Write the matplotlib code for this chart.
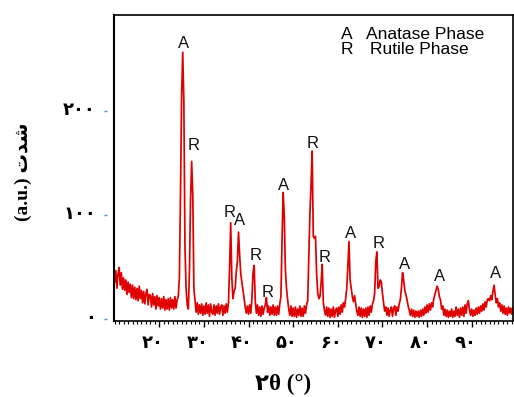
import numpy as np
import matplotlib
matplotlib.use("Agg")
import matplotlib.pyplot as plt
import matplotlib.transforms as mtransforms
from matplotlib.lines import Line2D

# 2-theta sampling grid (degrees) and intensities
two_theta_start = 10.0
two_theta_step = 0.25
intensity = [
    36, 47, 30, 44, 50, 33, 45, 29,      # 10
    40, 28, 38, 24, 36, 26, 34, 21,      # 12
    33, 20, 31, 19, 30, 18, 32, 20,      # 14
    28, 16, 27, 15, 25, 29, 14, 24,      # 16
    23, 12, 25, 14, 22, 10, 23, 13,      # 18
    21, 10, 20, 11, 22, 9, 19, 10,       # 20
    20, 9, 21, 11, 19, 10, 22, 11,       # 22
    19, 22, 40, 120, 215, 257, 210, 70,  # 24
    30, 14, 10, 45, 115, 152, 120, 30,   # 26
    18, 7, 16, 5, 14, 6, 15, 4,          # 28
    13, 5, 16, 6, 14, 3, 15, 7,          # 30
    5, 14, 4, 13, 6, 15, 5, 12,          # 32
    14, 4, 13, 6, 15, 7, 16, 50,         # 34
    93, 40, 20, 27, 30, 46, 56, 84,      # 36
    62, 44, 36, 28, 20, 12, 6, 13,       # 38
    5, 14, 6, 20, 45, 52, 18, 6,         # 40
    14, 4, 12, 3, 13, 5, 11, 14,         # 42
    21, 7, 13, 4, 12, 5, 14, 4,          # 44
    12, 4, 13, 5, 15, 22, 76, 122,       # 46
    100, 48, 30, 19, 10, 4, 13, 3,       # 48
    11, 3, 12, 2, 10, 4, 13, 3,          # 50
    11, 3, 13, 6, 14, 18, 60, 102,       # 52
    130, 162, 80, 78, 80, 44, 25, 20,    # 54
    22, 35, 53, 16, 9, 4, 12, 3,         # 56
    11, 2, 10, 3, 12, 2, 9, 11,          # 58
    3, 12, 5, 14, 7, 16, 12, 20,         # 60
    30, 51, 75, 38, 30, 22, 17, 23,      # 62
    15, 8, 4, 12, 3, 11, 2, 10,          # 64
    3, 11, 2, 12, 4, 13, 7, 15,          # 66
    18, 25, 55, 65, 30, 32, 38, 36,      # 68
    25, 16, 8, 12, 4, 11, 3, 9,          # 70
    12, 3, 11, 13, 4, 12, 8, 15,         # 72
    19, 30, 45, 38, 28, 24, 19, 13,      # 74
    9, 4, 10, 3, 9, 2, 8, 3,             # 76
    8, 2, 9, 3, 10, 4, 12, 6,            # 78
    14, 7, 15, 9, 16, 12, 20, 24,        # 80
    28, 32, 29, 22, 19, 10, 13, 4,       # 82
    10, 3, 9, 2, 8, 3, 10, 2,            # 84
    8, 3, 12, 4, 10, 2, 11, 4,           # 86
    12, 3, 14, 6, 15, 18, 9, 4,          # 88
    10, 3, 9, 4, 11, 5, 12, 6,           # 90
    13, 8, 15, 9, 17, 12, 19, 20,        # 92
    18, 23, 19, 27, 33, 24, 16, 20,      # 94
    12, 16, 8, 14, 6, 13, 5, 11,         # 96
    4, 12, 6, 11, 5, 12, 7,              # 98
]
two_theta = two_theta_start + two_theta_step * np.arange(len(intensity))

# peak labels (phase letter, position in data units)
peak_labels = ["A", "R", "R", "A", "R", "R", "A", "R", "R", "A", "R", "A", "A", "A"]
peak_label_x = [25.38, 27.71, 35.77, 38.08, 41.6, 44.36, 47.78, 54.37, 56.97, 62.95, 69.16, 74.9, 82.74, 95.44]
peak_label_y = [265.6, 167.1, 103.1, 94.7, 61.1, 26.2, 128.7, 168.8, 59.4, 82.9, 72.6, 52.4, 41.2, 44.4]

x_ticks = [20, 30, 40, 50, 60, 70, 80, 90]
y_ticks = [0, 100, 200]
legend_keys = ["A", "R"]
legend_names = ["Anatase Phase", "Rutile Phase"]

PERSIAN = str.maketrans("0123456789", "۰۱۲۳۴۵۶۷۸۹")
def fa(n):
    return str(n).translate(PERSIAN)

W, H = 514, 397
fig = plt.figure(figsize=(W / 100, H / 100), dpi=100)
ax = fig.add_axes([114 / W, 1 - 320.5 / H, (513 - 114) / W, (320.5 - 15) / H])

ax.plot(two_theta, intensity, color="#e00000", lw=1.25)
ax.set_xlim(9.85, 99.25)
ax.set_ylim(-1, 292.8)

# x ticks
ax.set_xticks(x_ticks)
ax.set_xticks([v for v in range(10, 100) if v not in x_ticks], minor=True)
ax.set_xticklabels([fa(v) for v in x_ticks], fontfamily="DejaVu Sans",
                   fontweight="bold", fontsize=13)
ax.tick_params(axis="x", which="major", direction="out", length=4.5, width=1.0, pad=5)
ax.tick_params(axis="x", which="minor", direction="out", length=2.5, width=0.8)
off = mtransforms.ScaledTranslation(-6.5 / 100, 0, fig.dpi_scale_trans)
for lab in ax.get_xticklabels():
    lab.set_transform(lab.get_transform() + off)

# y ticks (blue, detached from frame)
ax.spines["left"].set_position(("outward", 5))
ax.spines["left"].set_edgecolor("none")
ax.add_line(Line2D([0, 0], [0, 1], transform=ax.transAxes, color="black",
                   lw=1.5, clip_on=False))
ax.set_yticks(y_ticks)
ax.set_yticklabels([fa(v) for v in y_ticks], fontfamily="DejaVu Sans",
                   fontweight="bold", fontsize=13)
ax.tick_params(axis="y", direction="out", length=2, width=1.0, color="#4a90d9", pad=6)
offy = mtransforms.ScaledTranslation(0, 3 / 100, fig.dpi_scale_trans)
for lab in ax.get_yticklabels():
    lab.set_transform(lab.get_transform() + offy)

for s in ["top", "right", "bottom"]:
    ax.spines[s].set_linewidth(1.2)

# peak letters
for t, px, py in zip(peak_labels, peak_label_x, peak_label_y):
    ax.text(px, py, t, ha="center", va="center", fontsize=12,
            fontfamily="Liberation Sans", color="#111111")

# legend as text
for i, (k, n) in enumerate(zip(legend_keys, legend_names)):
    yc = 1 - (34.3 + 15.7 * i) / H
    fig.text(341 / W, yc, k, ha="left", va="center", fontsize=12.5,
             fontfamily="Liberation Sans")
    fig.text((366.5 + 3 * i) / W, yc, n, ha="left", va="center", fontsize=12.5,
             fontfamily="Liberation Sans")

# axis labels
fig.text(23 / W, 1 - 172 / H, "(a.u.) \uFE95\uFEAA\uFEB7", rotation=90,
         ha="center", va="center", fontsize=14, fontweight="bold",
         fontfamily=["Liberation Serif", "DejaVu Sans"])
fig.text(283 / W, 1 - 384 / H, "۲θ (°)", ha="center", va="center",
         fontsize=16.5, fontweight="bold",
         fontfamily=["Liberation Serif", "DejaVu Sans"])

fig.savefig("out.png", dpi=100)
